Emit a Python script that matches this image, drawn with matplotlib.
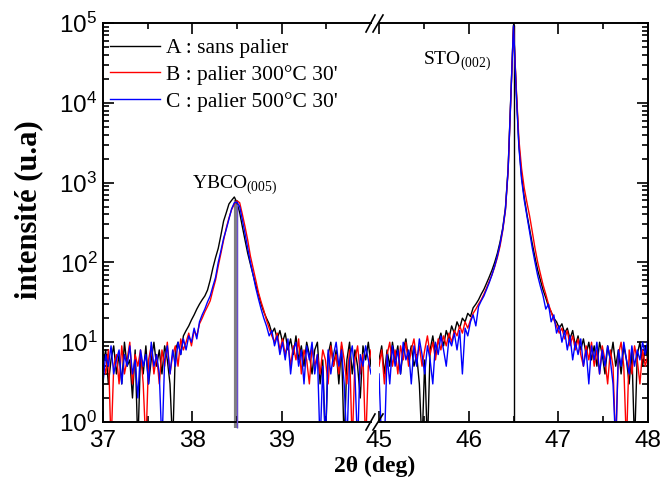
import numpy as np
import matplotlib
matplotlib.use("Agg")
import matplotlib.pyplot as plt
from matplotlib.lines import Line2D
from matplotlib.ticker import LogLocator, FixedLocator, NullFormatter

plt.rcParams['font.family'] = ['Liberation Sans', 'DejaVu Sans']
plt.rcParams['mathtext.fontset'] = 'custom'
plt.rcParams['mathtext.rm'] = 'Liberation Sans'

# ---------------- data (2theta grid: 0.03 deg steps) ----------------
left_range = (37.0, 40.0)
right_range = (45.0, 48.0)

A_left = [5, 8, 3, 6, 9, 4, 7, 3, 10, 5, 6, 2, 8, 0.5, 7, 4, 9, 3, 6, 10,
          5, 8, 4, 9, 6, 3, 0.5, 8, 10, 7, 12, 14, 16, 19, 22, 26, 30, 34, 38, 45,
          60, 85, 115, 150, 220, 330, 420, 540, 600, 660, 560, 420, 280, 190, 130, 95, 70, 52, 40, 30,
          24, 20, 17, 13, 15, 11, 14, 10, 13, 8, 11, 7, 12, 6, 9, 5, 10, 7, 4, 8,
          10, 3, 6, 0.5, 7, 10, 5, 8, 3, 9, 0.5, 6, 10, 4, 8, 5, 2, 9, 6, 10, 5]
B_left = [6, 4, 8, 0.5, 5, 7, 3, 9, 4, 6, 10, 3, 7, 5, 8, 3, 0.5, 6, 9, 4,
          7, 3, 8, 5, 10, 4, 7, 9, 5, 11, 8, 10, 13, 9, 14, 12, 17, 20, 24, 28,
          33, 45, 60, 90, 130, 190, 270, 360, 460, 540, 590, 560, 400, 280, 190, 120, 85, 60, 42, 32,
          25, 19, 15, 12, 10, 13, 8, 11, 7, 10, 5, 9, 6, 11, 4, 8, 6, 3, 9, 5,
          7, 4, 8, 6, 3, 9, 5, 7, 4, 10, 6, 3, 8, 0.5, 6, 9, 4, 7, 0.5, 5, 8]
C_left = [3, 7, 5, 9, 4, 6, 8, 3, 7, 5, 9, 4, 6, 2, 8, 5, 7, 3, 10, 5,
          7, 4, 0.5, 6, 9, 4, 8, 5, 10, 7, 11, 8, 12, 10, 15, 11, 18, 22, 26, 32,
          38, 50, 65, 100, 140, 200, 260, 350, 470, 560, 570, 500, 340, 230, 150, 100, 70, 48, 35, 26,
          20, 16, 12, 14, 9, 12, 7, 10, 6, 11, 4, 8, 10, 5, 8, 3, 9, 6, 10, 4,
          7, 0.5, 5, 0.5, 8, 4, 7, 10, 5, 8, 3, 0.5, 6, 9, 4, 0.5, 7, 5, 9, 6, 4]

A_right = [6, 9, 4, 8, 5, 10, 6, 9, 4, 8, 11, 6, 9, 5, 7, 3, 0.5, 6, 0.5, 8,
           12, 7, 10, 13, 9, 14, 11, 16, 13, 18, 15, 20, 18, 23, 21, 27, 30, 34, 40, 46,
           55, 66, 80, 100, 130, 180, 270, 480, 1500, 12000, 95000, 15000, 3000, 1200, 650, 400, 260, 170, 115, 80,
           60, 45, 36, 28, 24, 20, 18, 15, 17, 13, 15, 11, 14, 9, 12, 8, 11, 7, 10, 6,
           9, 5, 10, 7, 4, 9, 6, 10, 5, 8, 4, 9, 6, 3, 8, 0.5, 7, 10, 5, 9, 6]
B_right = [5, 8, 3, 7, 10, 5, 8, 4, 9, 6, 10, 5, 8, 11, 6, 9, 5, 8, 12, 7,
           10, 6, 11, 8, 12, 9, 13, 10, 14, 12, 16, 13, 18, 15, 19, 23, 26, 30, 34, 40,
           48, 58, 70, 88, 115, 160, 250, 450, 1400, 11000, 90000, 16000, 3500, 1500, 850, 560, 380, 240, 150, 100,
           72, 52, 40, 30, 24, 19, 16, 13, 15, 11, 14, 9, 12, 8, 11, 7, 5, 9, 6, 10,
           5, 8, 4, 9, 6, 3, 8, 5, 0.5, 7, 10, 5, 0.5, 8, 4, 9, 6, 3, 8, 5, 7]
C_right = [4, 0.5, 0.5, 7, 3, 9, 5, 8, 4, 10, 6, 8, 3, 9, 5, 11, 7, 4, 9, 6,
           3, 10, 7, 12, 8, 5, 11, 9, 13, 8, 14, 4, 15, 12, 18, 22, 16, 28, 33, 38,
           46, 56, 70, 90, 120, 170, 260, 460, 1450, 11500, 92000, 14000, 2800, 1100, 600, 380, 240, 150, 100, 68,
           50, 38, 26, 30, 18, 22, 13, 16, 10, 14, 8, 12, 6, 10, 7, 11, 5, 8, 3, 9,
           6, 10, 4, 8, 5, 9, 6, 3, 0.5, 8, 5, 10, 6, 4, 9, 5, 8, 6, 10, 7, 11]

series_labels = ["A : sans palier", "B : palier 300°C 30'", "C : palier 500°C 30'"]
series_colors = ["black", "#ff0000", "#0000ff"]

ybco_peak = 38.5
ybco_top = 600
sto_peak = 46.5
sto_top = 95000

# ---------------- figure ----------------
W, H = 661, 493
fig = plt.figure(figsize=(W / 100, H / 100), dpi=100)

def fx(px):
    return px / W

def fy(py):
    return 1 - py / H

ax_l, ax_r, ax_t, ax_b = 103, 648, 23, 422
brk_l, brk_r = 371, 379
ax1 = fig.add_axes([fx(ax_l), fy(ax_b), fx(brk_l - ax_l), (ax_b - ax_t) / H])
ax2 = fig.add_axes([fx(brk_r), fy(ax_b), fx(ax_r - brk_r), (ax_b - ax_t) / H])

lefts = [A_left, B_left, C_left]
rights = [A_right, B_right, C_right]

# vertical drop lines at the peaks
ax1.vlines(ybco_peak - 0.01, 0.85, ybco_top, color="#808080", lw=3.0, zorder=1, clip_on=False)
ax2.vlines(sto_peak, 1, sto_top, color="black", lw=1.0, zorder=1)

for vals, col, lab in zip(lefts, series_colors, series_labels):
    x = np.linspace(left_range[0], left_range[1], len(vals))
    ax1.plot(x, vals, color=col, lw=1.0, label=lab, zorder=2)
for vals, col in zip(rights, series_colors):
    x = np.linspace(right_range[0], right_range[1], len(vals))
    ax2.plot(x, vals, color=col, lw=1.0, zorder=2)

ax1.vlines(ybco_peak + 0.005, 0.85, ybco_top * 0.9, color="#6a4dd0", lw=1.0, zorder=3, clip_on=False)

for ax in (ax1, ax2):
    ax.set_yscale('log')
    ax.set_ylim(1, 1e5)
    ax.yaxis.set_major_locator(LogLocator(base=10, numticks=10))
    ax.yaxis.set_minor_locator(LogLocator(base=10, subs=np.arange(2, 10), numticks=20))
    ax.yaxis.set_minor_formatter(NullFormatter())
    ax.tick_params(which='both', direction='in', top=True, width=1.2, labelsize=17.5, pad=6)
    ax.tick_params(which='major', length=8)
    ax.tick_params(which='minor', length=4)
    for s in ax.spines.values():
        s.set_linewidth(1.4)

ax1.set_xlim(*left_range)
ax2.set_xlim(*right_range)
ax1.xaxis.set_major_locator(FixedLocator([37, 38, 39]))
ax1.xaxis.set_minor_locator(FixedLocator([37.5, 38.5, 39.5]))
ax2.xaxis.set_major_locator(FixedLocator([45, 46, 47, 48]))
ax2.xaxis.set_minor_locator(FixedLocator([45.5, 46.5, 47.5]))

ax1.spines['right'].set_visible(False)
ax2.spines['left'].set_visible(False)
ax1.tick_params(axis='y', which='both', right=False, left=True, pad=4)
ax2.tick_params(axis='y', which='both', left=False, right=True, labelleft=False, labelright=False)

# break marks
for yb, yt in ((430, 414), (32, 15)):
    for x0, x1 in ((366, 375), (373, 383)):
        fig.add_artist(Line2D([fx(x0), fx(x1)], [fy(yb), fy(yt)], color='black', lw=1.2))

# labels
serif = ['Liberation Serif', 'DejaVu Serif']
fig.text(fx(375), fy(466), "2θ (deg)", ha='center', va='center', fontsize=17,
         fontweight='bold', family=serif)
fig.text(fx(29), fy(210), "intensité (u.a)", ha='center', va='center', rotation=90,
         fontsize=22, fontweight='bold', family=serif)

fig.text(fx(192), fy(189), r"YBCO$_\mathregular{(005)}$", fontsize=14, family=serif,
         ha='left', va='baseline')
fig.text(fx(423), fy(65), r"STO$_\mathregular{(002)}$", fontsize=14, family=serif,
         ha='left', va='baseline')

leg = ax1.legend(loc='upper left', bbox_to_anchor=(fx(110), fy(38)),
                 bbox_transform=fig.transFigure, frameon=False,
                 prop={'family': serif, 'size': 15.5}, handlelength=2.3,
                 handletextpad=0.3, labelspacing=0.32, borderpad=0, borderaxespad=0)

fig.savefig("out.png", dpi=100)
